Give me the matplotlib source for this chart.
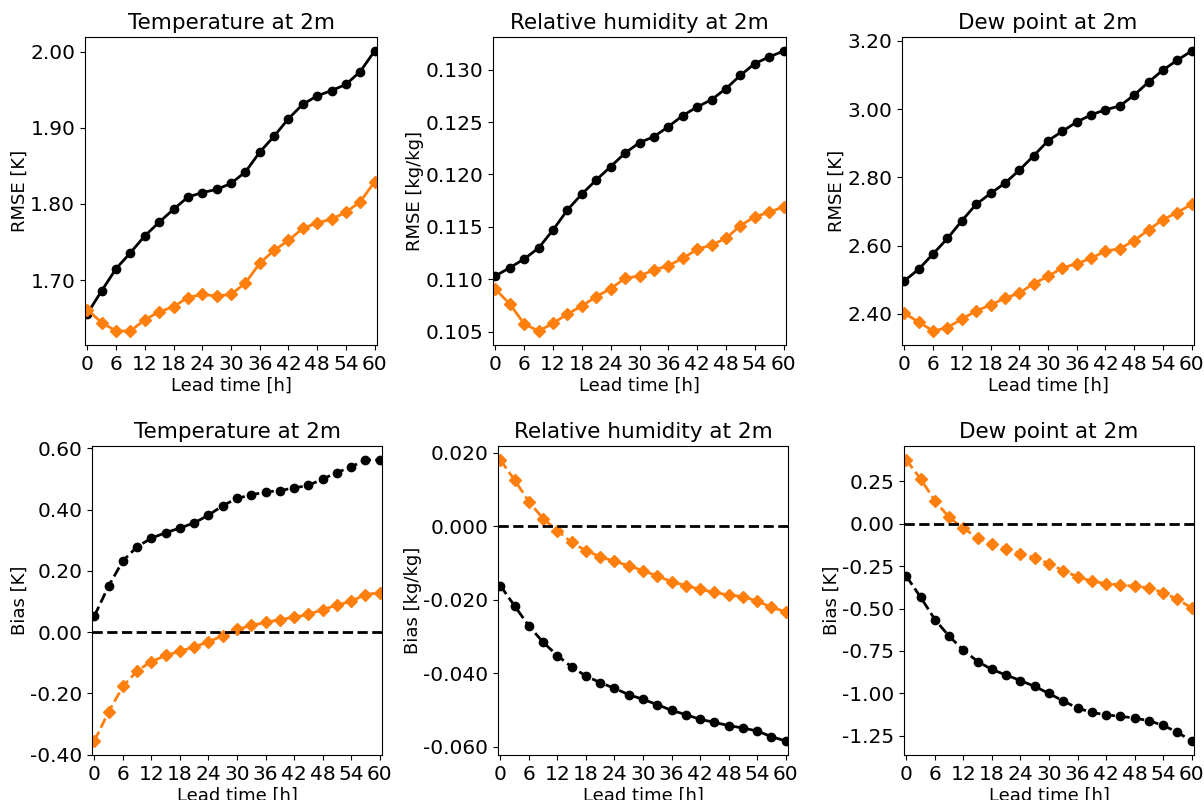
import matplotlib
matplotlib.use("Agg")
import matplotlib.pyplot as plt
import numpy as np
from matplotlib.ticker import FormatStrFormatter

lead_time = [0, 3, 6, 9, 12, 15, 18, 21, 24, 27, 30, 33, 36, 39, 42, 45, 48, 51, 54, 57, 60]
xticks = [0, 6, 12, 18, 24, 30, 36, 42, 48, 54, 60]

t2m_rmse_ref = [1.656, 1.686, 1.715, 1.736, 1.758, 1.776, 1.793, 1.809, 1.815, 1.819, 1.827,
                1.842, 1.868, 1.889, 1.912, 1.931, 1.942, 1.949, 1.957, 1.974, 2.001]
t2m_rmse_new = [1.661, 1.644, 1.633, 1.633, 1.648, 1.658, 1.665, 1.677, 1.681, 1.679, 1.681,
                1.696, 1.722, 1.739, 1.752, 1.768, 1.775, 1.780, 1.789, 1.803, 1.829]

rh_rmse_ref = [0.11032, 0.11111, 0.11194, 0.11299, 0.11471, 0.11662, 0.11814, 0.11948, 0.12075,
               0.12205, 0.12304, 0.12361, 0.12456, 0.12562, 0.12644, 0.12714, 0.12819, 0.12946,
               0.13058, 0.13121, 0.13178]
rh_rmse_new = [0.10905, 0.10765, 0.10574, 0.10507, 0.10580, 0.10669, 0.10746, 0.10835, 0.10911,
               0.11010, 0.11032, 0.11089, 0.11130, 0.11200, 0.11286, 0.11328, 0.11391, 0.11512,
               0.11598, 0.11639, 0.11693]

td_rmse_ref = [2.497, 2.531, 2.576, 2.621, 2.673, 2.721, 2.753, 2.783, 2.821, 2.863, 2.907,
               2.935, 2.962, 2.983, 2.998, 3.009, 3.041, 3.079, 3.114, 3.143, 3.170]
td_rmse_new = [2.402, 2.376, 2.350, 2.360, 2.385, 2.409, 2.426, 2.446, 2.461, 2.489, 2.510,
               2.535, 2.547, 2.563, 2.584, 2.591, 2.615, 2.646, 2.676, 2.697, 2.721]

t2m_bias_ref = [0.053, 0.151, 0.233, 0.279, 0.307, 0.325, 0.340, 0.357, 0.382, 0.413, 0.437,
                0.448, 0.458, 0.462, 0.471, 0.479, 0.500, 0.521, 0.540, 0.562, 0.562]
t2m_bias_new = [-0.355, -0.260, -0.177, -0.126, -0.096, -0.076, -0.062, -0.048, -0.031, -0.012,
                0.009, 0.022, 0.032, 0.041, 0.049, 0.058, 0.074, 0.088, 0.101, 0.123, 0.129]

rh_bias_ref = [-0.01616, -0.0217, -0.02715, -0.0316, -0.03523, -0.03832, -0.04077, -0.04259,
               -0.04413, -0.04586, -0.04713, -0.04858, -0.05013, -0.05131, -0.05258, -0.0534,
               -0.0543, -0.05494, -0.05576, -0.0573, -0.05848]
rh_bias_new = [0.01807, 0.01262, 0.00672, 0.00209, -0.00118, -0.00436, -0.00663, -0.00826,
               -0.00954, -0.01072, -0.01208, -0.01353, -0.01507, -0.01616, -0.01716, -0.01798,
               -0.01871, -0.01916, -0.02034, -0.02207, -0.02325]

td_bias_ref = [-0.310, -0.433, -0.565, -0.663, -0.745, -0.812, -0.859, -0.892, -0.924, -0.959,
               -1.000, -1.045, -1.086, -1.112, -1.126, -1.135, -1.145, -1.161, -1.188, -1.229, -1.280]
td_bias_new = [0.375, 0.263, 0.135, 0.037, -0.028, -0.082, -0.122, -0.147, -0.177, -0.200,
               -0.235, -0.277, -0.312, -0.339, -0.353, -0.361, -0.369, -0.378, -0.406, -0.445, -0.496]

titles = ["Temperature at 2m", "Relative humidity at 2m", "Dew point at 2m"]
rmse_labels = ["RMSE [K]", "RMSE [kg/kg]", "RMSE [K]"]
bias_labels = ["Bias [K]", "Bias [kg/kg]", "Bias [K]"]
rmse_fmt = ["%.2f", "%.3f", "%.2f"]
bias_fmt = ["%.2f", "%.3f", "%.2f"]
rmse_ticks = [[1.7, 1.8, 1.9, 2.0], [0.105, 0.110, 0.115, 0.120, 0.125, 0.130],
              [2.4, 2.6, 2.8, 3.0, 3.2]]
bias_ticks = [[-0.4, -0.2, 0.0, 0.2, 0.4, 0.6], [-0.06, -0.04, -0.02, 0.0, 0.02],
              [-1.25, -1.0, -0.75, -0.5, -0.25, 0.0, 0.25]]

ORANGE = "#ff7f0e"
W, H = 1204, 800
fig = plt.figure(figsize=(W / 100, H / 100), dpi=100)

top_boxes = [(85, 37, 377, 345), (493, 37, 786, 345), (902, 37, 1194, 345)]
bot_boxes = [(92, 446, 382, 755), (498, 446, 788, 755), (904, 446, 1194, 755)]

def box_to_rect(b):
    x0, y0, x1, y1 = b
    return [x0 / W, 1 - y1 / H, (x1 - x0) / W, (y1 - y0) / H]

rmse_data = [(t2m_rmse_ref, t2m_rmse_new), (rh_rmse_ref, rh_rmse_new), (td_rmse_ref, td_rmse_new)]
bias_data = [(t2m_bias_ref, t2m_bias_new), (rh_bias_ref, rh_bias_new), (td_bias_ref, td_bias_new)]

def style(ax, title, ylabel, fmt, yt):
    ax.set_title(title, fontsize=15.5)
    ax.set_ylabel(ylabel, fontsize=13, labelpad=1)
    ax.set_xlabel("Lead time [h]", fontsize=13, labelpad=2)
    ax.set_xticks(xticks)
    ax.set_xlim(-0.5, 60.5)
    ax.set_yticks(yt)
    ax.tick_params(labelsize=14.5)
    ax.yaxis.set_major_formatter(FormatStrFormatter(fmt))

for i in range(3):
    ax = fig.add_axes(box_to_rect(top_boxes[i]))
    ref, new = rmse_data[i]
    ax.plot(lead_time, ref, color="black", marker="o", lw=2, ms=6)
    ax.plot(lead_time, new, color=ORANGE, marker="D", lw=2, ms=6)
    style(ax, titles[i], rmse_labels[i], rmse_fmt[i], rmse_ticks[i])
    ax.autoscale(enable=True, axis="y")
    ax.margins(y=0.05)

for i in range(3):
    ax = fig.add_axes(box_to_rect(bot_boxes[i]))
    ref, new = bias_data[i]
    ax.plot(lead_time, ref, color="black", marker="o", lw=2, ms=6, ls="--")
    ax.plot(lead_time, new, color=ORANGE, marker="D", lw=2, ms=6, ls="--")
    ax.axhline(0, color="black", ls="--", lw=2)
    style(ax, titles[i], bias_labels[i], bias_fmt[i], bias_ticks[i])

fig.savefig("out.png", dpi=100)
